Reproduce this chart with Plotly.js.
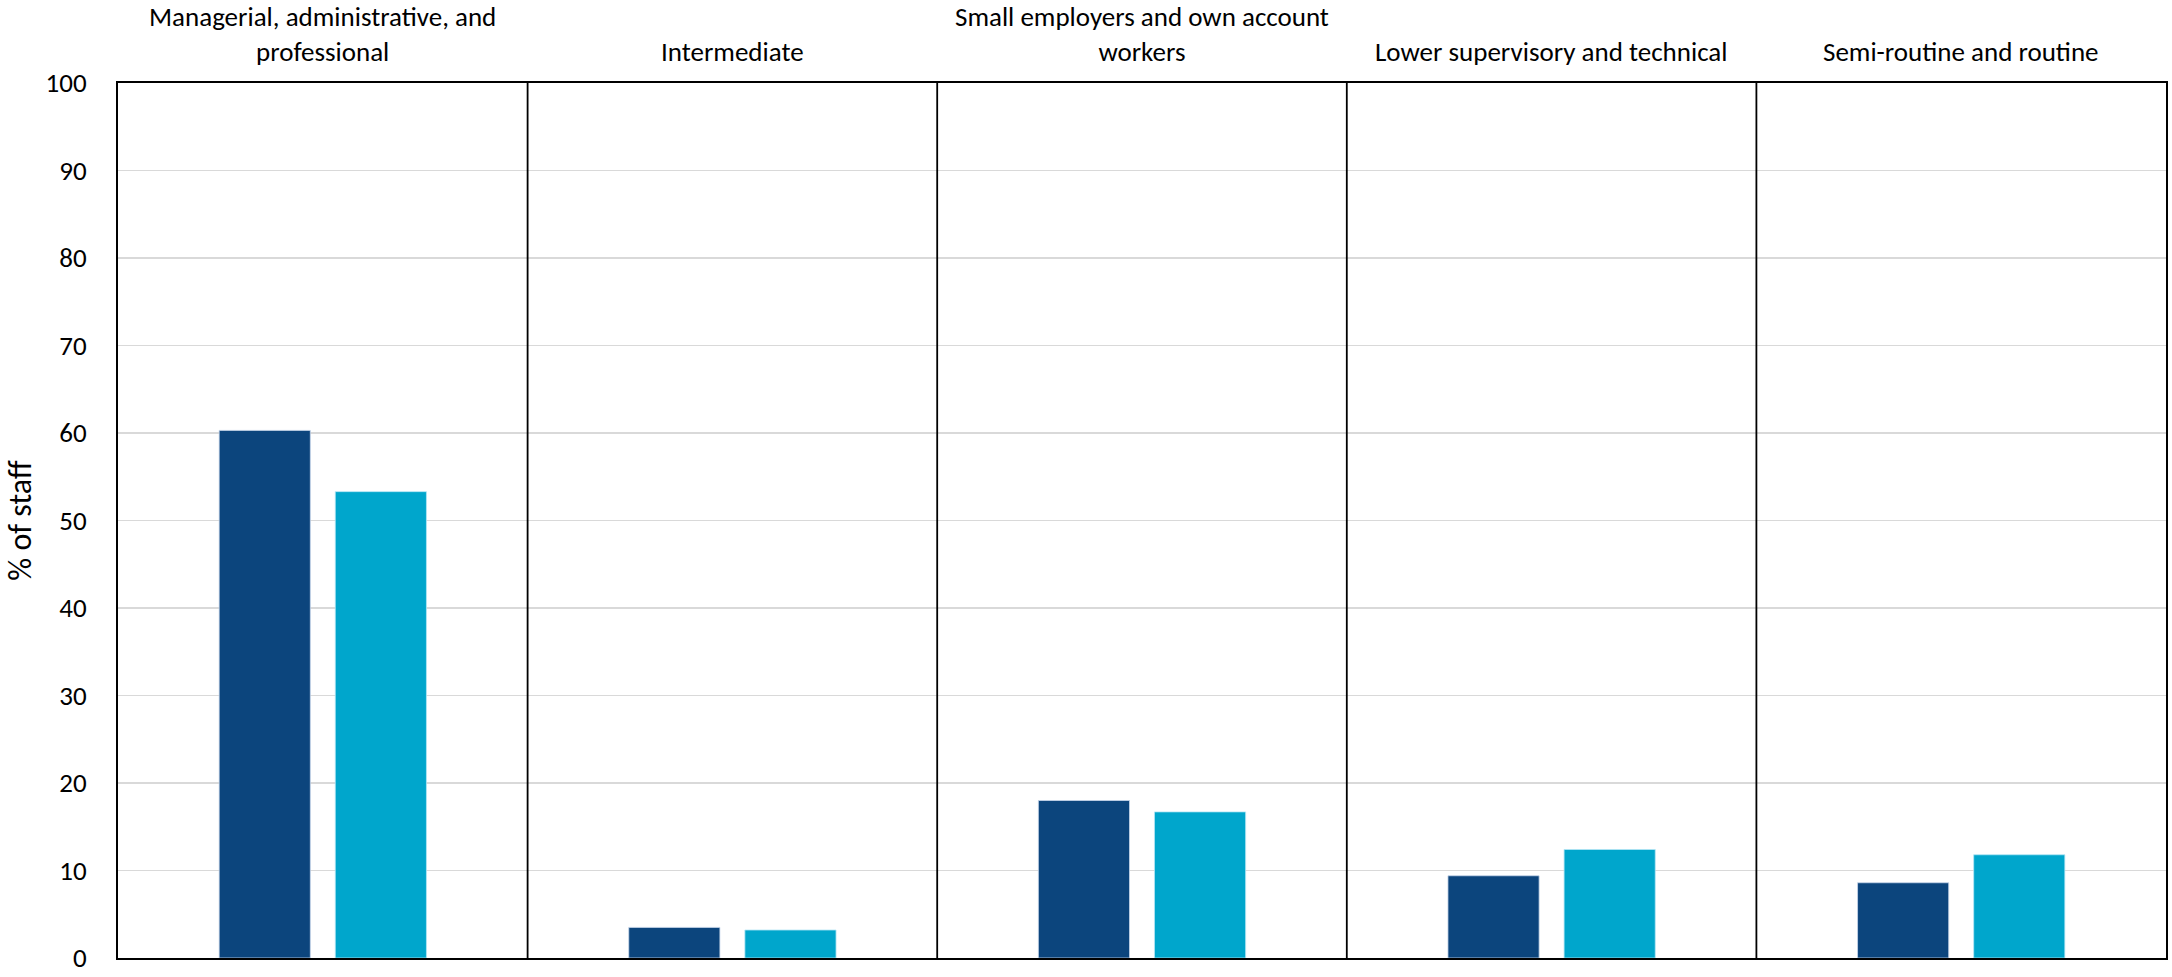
<!DOCTYPE html>
<html>
<head>
<meta charset="utf-8">
<script src="https://cdn.plot.ly/plotly-3.0.1.min.js"></script>
<style>html,body{margin:0;padding:0;background:#fff;}#chart{width:2172px;height:977px;}</style>
</head>
<body>
<div id="chart"></div>
<script>
const categories = [
  "Managerial, administrative, and<br>professional",
  "Intermediate",
  "Small employers and own account<br>workers",
  "Lower supervisory and technical",
  "Semi-routine and routine"
];
const seriesNames = ["Series 1", "Series 2"];
const series1 = [60.3, 3.5, 18.0, 9.4, 8.6];
const series2 = [53.3, 3.2, 16.7, 12.4, 11.8];
const yTicks = [0, 10, 20, 30, 40, 50, 60, 70, 80, 90, 100];

const FONT = "Carlito, Calibri, Lato, 'Liberation Sans', sans-serif";
const xIdx = categories.map((c, i) => i);

const traces = [
  {type: "bar", name: seriesNames[0], x: xIdx, y: series1,
   marker: {color: "#0C457D", line: {color: "rgba(200,215,235,0.8)", width: 1}}},
  {type: "bar", name: seriesNames[1], x: xIdx, y: series2,
   marker: {color: "#00A6CC", line: {color: "rgba(180,230,245,0.8)", width: 1}}}
];

const shapes = [];
for (let i = 0; i < categories.length - 1; i++) {
  shapes.push({type: "line", xref: "x", yref: "paper", x0: i + 0.5, x1: i + 0.5, y0: 0, y1: 1,
    line: {color: "#000", width: 1.8}, layer: "above"});
}

const annotations = categories.map((c, i) => ({
  text: c, x: i, xref: "x", y: 1, yref: "paper", yanchor: "bottom", xanchor: "center",
  yshift: 13, showarrow: false, align: "center",
  font: {family: FONT, size: 27, color: "#000"}
}));

const layout = {
  width: 2172, height: 977,
  margin: {l: 118, r: 6, t: 83, b: 19, pad: 0},
  paper_bgcolor: "#fff", plot_bgcolor: "#fff",
  showlegend: false,
  barmode: "group", bargap: 0.433, bargroupgap: 0.215,
  font: {family: FONT, color: "#000"},
  xaxis: {type: "linear", range: [-0.5, categories.length - 0.5], showticklabels: false,
    showgrid: false, zeroline: false, showline: true, mirror: true, linecolor: "#000", linewidth: 2, ticks: ""},
  yaxis: {range: [0, 100], tickvals: yTicks, ticktext: yTicks.map(String), showgrid: true,
    gridcolor: "#d9d9d9", gridwidth: 1.5, zeroline: false, showline: true, mirror: true,
    linecolor: "#000", linewidth: 2, ticks: "", ticklabelstandoff: 24, ticklabeloverflow: "allow",
    tickfont: {family: FONT, size: 27, color: "#000"},
    title: {text: "% of staff", font: {family: FONT, size: 32, color: "#000"}, standoff: 4}},
  shapes: shapes,
  annotations: annotations
};

Plotly.newPlot("chart", traces, layout, {displayModeBar: false, staticPlot: true});
</script>
</body>
</html>
